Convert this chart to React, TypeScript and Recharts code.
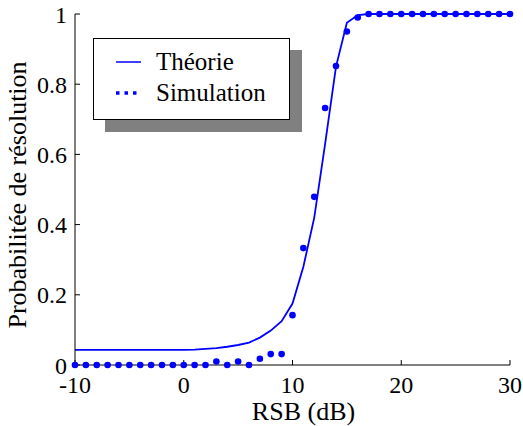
import React from 'react';
import { ComposedChart, Line, XAxis, YAxis, Legend, Label } from 'recharts';

const rsbValues = [
  -10, -9, -8, -7, -6, -5, -4, -3, -2, -1, 0, 1, 2, 3, 4, 5, 6, 7, 8, 9, 10,
  11, 12, 13, 14, 15, 16, 17, 18, 19, 20, 21, 22, 23, 24, 25, 26, 27, 28, 29, 30,
];
const theoryValues = [
  0.043, 0.043, 0.043, 0.043, 0.043, 0.043, 0.043, 0.043, 0.043, 0.043, 0.043,
  0.044, 0.046, 0.048, 0.052, 0.057, 0.064, 0.078, 0.098, 0.125, 0.175,
  0.28, 0.42, 0.63, 0.85, 0.975, 0.997, 1, 1, 1, 1, 1, 1, 1, 1, 1, 1, 1, 1, 1, 1,
];
const simulationValues = [
  0, 0, 0, 0, 0, 0, 0, 0, 0, 0, 0, 0, 0, 0.01, 0, 0.01, 0, 0.018, 0.031, 0.031,
  0.142, 0.333, 0.479, 0.732, 0.852, 0.95, 0.99, 1, 1, 1, 1, 1, 1, 1, 1, 1, 1, 1,
  1, 1, 1,
];
const xTicks = [-10, 0, 10, 20, 30];
const yTicks = [0, 0.2, 0.4, 0.6, 0.8, 1];
const legendLabels = ['Théorie', 'Simulation'];

const data = rsbValues.map((x, i) => ({
  rsb: x,
  theorie: theoryValues[i],
  simulation: simulationValues[i],
}));

const FONT = "Liberation Serif, Tinos, 'DejaVu Serif', serif";
const BLUE = '#0000ff';

const LegendBox = () => (
  <div
    style={{
      position: 'relative',
      width: 197,
      height: 82,
      background: '#fff',
      border: '1px solid #000',
      boxSizing: 'border-box',
      boxShadow: '12px 12px 0 #808080',
      fontFamily: FONT,
      fontSize: 25,
      color: '#000',
    }}
  >
    {legendLabels.map((label, i) => (
      <div
        key={label}
        style={{
          position: 'absolute',
          left: 22,
          top: i === 0 ? 8 : 39,
          height: 30,
          display: 'flex',
          alignItems: 'center',
          whiteSpace: 'nowrap',
        }}
      >
        <svg width={25} height={10} style={{ marginRight: 15 }}>
          {i === 0 ? (
            <line x1={0} y1={5} x2={25} y2={5} stroke={BLUE} strokeWidth={1.5} />
          ) : (
            <line x1={0} y1={5} x2={25} y2={5} stroke={BLUE} strokeWidth={3.5} strokeDasharray="3.5 5" />
          )}
        </svg>
        <span style={{ lineHeight: '30px' }}>{label}</span>
      </div>
    ))}
  </div>
);

export default function App() {
  const tickStyle = { fill: '#000', fontSize: 24, fontFamily: FONT };
  return (
    <div style={{ position: 'absolute', left: 0, top: 0, width: 523, height: 426, background: '#fff', fontFamily: FONT }}>
      <ComposedChart
        width={523}
        height={426}
        data={data}
        margin={{ top: 14, right: 13, left: 0, bottom: 0 }}
        style={{ fontFamily: FONT }}
      >
        <XAxis
          dataKey="rsb"
          type="number"
          domain={[-10, 30]}
          ticks={xTicks}
          tick={tickStyle}
          tickSize={-5}
          tickMargin={16}
          height={61}
          stroke="#000"
          interval={0}
        >
          <Label
            value="RSB (dB)"
            position="insideBottom"
            offset={6}
            dx={11}
            fontFamily={FONT}
            fontSize={26}
            fill="#000"
          />
        </XAxis>
        <XAxis
          xAxisId="top"
          orientation="top"
          type="number"
          domain={[-10, 30]}
          ticks={xTicks}
          tick={false}
          tickSize={-5}
          height={0}
          stroke="#000"
          interval={0}
        />
        <YAxis
          type="number"
          domain={[0, 1]}
          ticks={yTicks}
          tick={tickStyle}
          tickSize={-5}
          tickMargin={13}
          width={75}
          stroke="#000"
          interval={0}
        >
          <Label
            value="Probabilitée de résolution"
            angle={-90}
            position="center"
            dx={-20.5}
            dy={5.5}
            fontFamily={FONT}
            fontSize={26}
            fill="#000"
            textAnchor="middle"
          />
        </YAxis>
        <YAxis
          yAxisId="right"
          orientation="right"
          type="number"
          domain={[0, 1]}
          ticks={yTicks}
          tick={false}
          tickSize={-5}
          width={0}
          stroke="#000"
          interval={0}
        />
        <Legend
          layout="vertical"
          align="center"
          verticalAlign="middle"
          wrapperStyle={{ left: 93, top: 38, width: 197, height: 82 }}
          content={() => <LegendBox />}
        />
        <Line
          type="linear"
          dataKey="theorie"
          stroke={BLUE}
          strokeWidth={1.8}
          dot={false}
          activeDot={false}
          isAnimationActive={false}
        />
        <Line
          type="linear"
          dataKey="simulation"
          stroke="none"
          dot={{ r: 3.3, fill: BLUE, stroke: 'none' }}
          activeDot={false}
          isAnimationActive={false}
        />
      </ComposedChart>
    </div>
  );
}
